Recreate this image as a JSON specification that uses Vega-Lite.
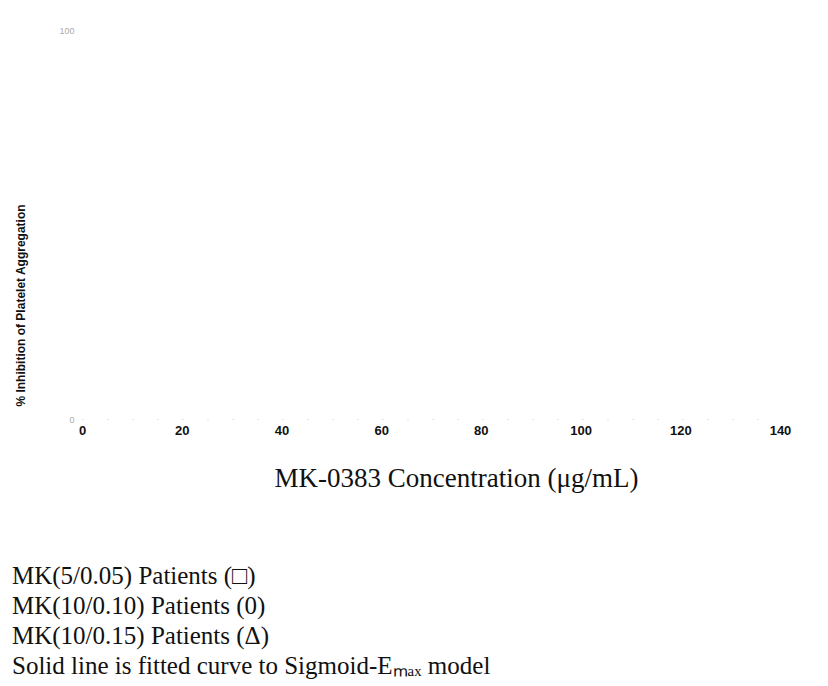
{
  "$schema": "https://vega.github.io/schema/vega-lite/v6.json",
  "width": 698,
  "height": 389,
  "autosize": {"type": "none"},
  "padding": {"left": 82, "top": 30, "right": 48, "bottom": 267},
  "background": "white",
  "config": {"view": {"stroke": null}},
  "title": {
    "text": ["MK(5/0.05) Patients (□)", "MK(10/0.10) Patients  (0)", "MK(10/0.15) Patients (Δ)", "Solid line is fitted curve to Sigmoid-Eₘₐₓ model"],
    "orient": "bottom",
    "anchor": "start",
    "frame": "group",
    "dx": -70,
    "offset": 73,
    "font": "Liberation Serif",
    "fontSize": 25,
    "fontWeight": "normal",
    "lineHeight": 30,
    "color": "#111"
  },
  "data": {"values": []},
  "mark": {"type": "point", "filled": false, "color": "black"},
  "encoding": {
    "x": {
      "field": "concentration",
      "type": "quantitative",
      "scale": {"domain": [0, 140], "nice": false, "zero": false},
      "axis": {
        "values": [0, 20, 40, 60, 80, 100, 120, 140],
        "title": "MK-0383 Concentration (μg/mL)",
        "titleFont": "Liberation Serif",
        "titleFontSize": 27,
        "titleFontWeight": "normal",
        "titleColor": "#111",
        "titlePadding": 28,
        "titleX": 374,
        "labelFont": "Liberation Sans",
        "labelFontSize": 13,
        "labelFontWeight": "bold",
        "labelColor": "#111",
        "labelPadding": 5,
        "labelFlush": false,
        "labelOverlap": false,
        "ticks": false,
        "grid": false,
        "domain": true,
        "domainColor": "#c8c8c8",
        "domainWidth": 1,
        "domainDash": [1, 24]
      }
    },
    "y": {
      "field": "inhibition",
      "type": "quantitative",
      "scale": {"domain": [0, 100], "nice": false},
      "axis": {
        "values": [0, 100],
        "title": "% Inhibition of Platelet Aggregation",
        "titleFont": "Liberation Sans",
        "titleFontSize": 12,
        "titleFontWeight": "bold",
        "titleColor": "#111",
        "titleX": -62,
        "titleY": 275,
        "titleAlign": "center",
        "titleBaseline": "middle",
        "labelFont": "Liberation Sans",
        "labelFontSize": 9,
        "labelColor": "#aaa",
        "labelPadding": 8,
        "labelFlush": false,
        "ticks": false,
        "grid": false,
        "domain": false
      }
    },
    "shape": {"field": "group", "type": "nominal", "legend": null}
  }
}
